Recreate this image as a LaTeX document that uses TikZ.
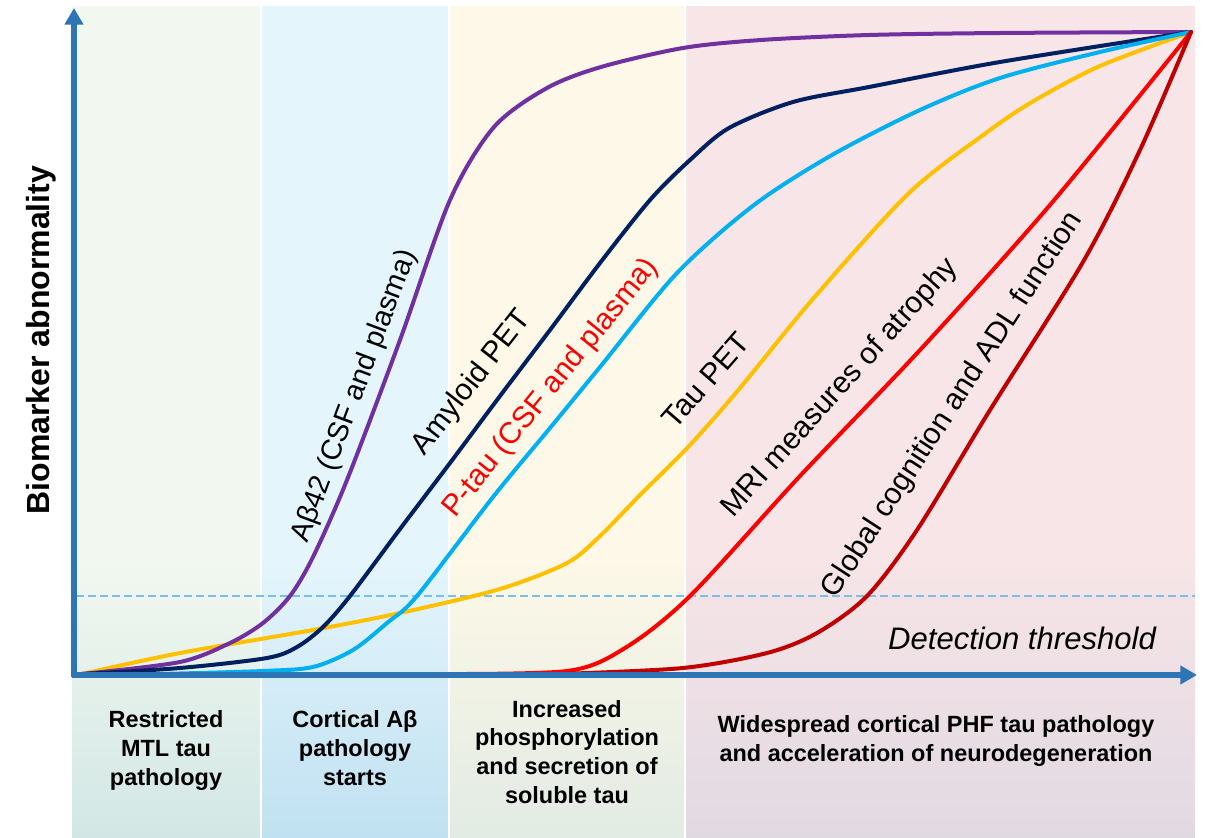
\documentclass[tikz,border=0pt]{standalone}
\usepackage{fontspec}
\setmainfont{Liberation Sans}
\usetikzlibrary{arrows.meta}
\definecolor{axisblue}{HTML}{2E75B6}
\definecolor{thr}{HTML}{74C2E8}
\definecolor{gTop}{HTML}{F2F8EF}
\definecolor{gBot}{HTML}{D2E7E5}
\definecolor{bTop}{HTML}{E5F5FC}
\definecolor{bBot}{HTML}{C0E1F1}
\definecolor{yTop}{HTML}{FDF8E7}
\definecolor{yBot}{HTML}{E2EBE4}
\definecolor{pTop}{HTML}{F7E5E7}
\definecolor{pBot}{HTML}{E1D9E2}
\definecolor{cPurple}{HTML}{7030A0}
\definecolor{cNavy}{HTML}{002060}
\definecolor{cLight}{HTML}{00B0F0}
\definecolor{cYellow}{HTML}{FFC000}
\definecolor{cRed}{HTML}{FF0000}
\definecolor{cDark}{HTML}{C00000}
\begin{document}
\begin{tikzpicture}[x=0.75pt,y=-0.75pt,
  curve/.style={line width=3pt,line cap=round,line join=round},
  axisline/.style={line width=4.2pt,draw=axisblue,-{Triangle[width=13.5pt,length=12.5pt]}},
  curvelab/.style={font=\fontsize{22.5}{26}\selectfont,inner sep=0pt},
  stagelab/.style={font=\bfseries\fontsize{17.6}{21}\selectfont,inner sep=0pt,anchor=base},
]
\useasboundingbox (0,0) rectangle (1208,838);
\fill[white] (0,0) rectangle (1208,838);
% panels
\fill[gTop] (72,6) rectangle (261,560);
\shade[top color=gTop,bottom color=gBot] (72,559.5) rectangle (261,838);
\fill[bTop] (261,6) rectangle (449,560);
\shade[top color=bTop,bottom color=bBot] (261,559.5) rectangle (449,838);
\fill[yTop] (449,6) rectangle (685,560);
\shade[top color=yTop,bottom color=yBot] (449,559.5) rectangle (685,838);
\fill[pTop] (685,6) rectangle (1195,560);
\shade[top color=pTop,bottom color=pBot] (685,559.5) rectangle (1195,838);
\foreach \xx in {261,449,685} \draw[white,line width=1.2pt] (\xx,6) -- (\xx,838);
% threshold
\coordinate (thrL) at (76,596);
\coordinate (thrR) at (1195,596);
\draw[thr,line width=1.5pt,dash pattern=on 6pt off 3pt] (thrL) -- (thrR);
% curves
\draw[curve,cYellow] plot[smooth,tension=0.5] coordinates {(82,674) (180,653) (313,630) (400,613) (500,589) (567,563) (600,536) (640,495) (690,445) (740,388) (812,300) (909,193) (986,133) (1032,102) (1100,66) (1191,32)};
\draw[curve,cPurple] plot[smooth,tension=0.5] coordinates {(82,674) (180,662) (230,643) (263,623) (290,596) (313,557) (347,480) (400,340) (450,200) (494,127) (547,88) (601,67) (683,48) (761,40) (869,35) (1000,33) (1191,32)};
\draw[curve,cNavy] plot[smooth,tension=0.5] coordinates {(82,674) (180,668) (267,658) (297,647) (323,627) (350,596) (400,529) (450,463) (500,396) (550,330) (600,263) (650,200) (690,160) (729,128) (793,102) (869,87) (1000,62) (1191,32)};
\draw[curve,cLight] plot[smooth,tension=0.5] coordinates {(160,674) (263,671) (313,667) (353,650) (387,623) (417,596) (493,497) (550,428) (600,367) (677,273) (754,205) (832,155) (920,110) (1000,78) (1100,52) (1191,32)};
\draw[curve,cRed] plot[smooth,tension=0.5] coordinates {(430,674) (567,671) (625,648) (690,596) (800,476) (920,350) (1050,205) (1191,32)};
\draw[curve,cDark] plot[smooth,tension=0.5] coordinates {(560,674) (683,668) (767,653) (817,633) (867,596) (917,530) (990,410) (1083,262) (1140,150) (1191,32)};
% axes
\coordinate (yb) at (74,677);
\coordinate (yt) at (74,8);
\coordinate (xl) at (72,675);
\coordinate (xr) at (1197,675);
\draw[axisline] (yb) -- (yt);
\draw[axisline] (xl) -- (xr);
% curve labels
\node[curvelab,rotate=69.5,font=\fontsize{21.6}{25}\selectfont] (lab1) at (355,396) {Aβ42 (CSF and plasma)};
\node[curvelab,rotate=52] (lab2) at (472,383) {Amyloid PET};
\node[curvelab,rotate=51,text=cRed] (lab3) at (551,388) {P-tau (CSF and plasma)};
\node[curvelab,rotate=49] (lab4) at (706,380) {Tau PET};
\node[curvelab,rotate=48] (lab5) at (840,388) {MRI measures of atrophy};
\node[curvelab,rotate=57] (lab6) at (953,405) {Global cognition and ADL function};
% detection threshold
\node[font=\itshape\fontsize{23.3}{27}\selectfont,inner sep=0pt,anchor=base] (det) at (1022,649) {Detection threshold};
% y axis label
\node[font=\bfseries\fontsize{24}{28}\selectfont,inner sep=0pt,rotate=90,anchor=base] (ylab) at (49,340) {Biomarker abnormality};
% stage labels
\foreach \t [count=\i] in {Restricted,MTL tau,pathology}
  \node[stagelab] (s1-\i) at (166,{727+29*(\i-1)}) {\t};
\foreach \t [count=\i] in {Cortical Aβ,pathology,starts}
  \node[stagelab] (s2-\i) at (355,{727+29*(\i-1)}) {\t};
\foreach \t [count=\i] in {Increased,phosphorylation,and secretion of,soluble tau}
  \node[stagelab] (s3-\i) at (567,{717+28.7*(\i-1)}) {\t};
\foreach \t [count=\i] in {Widespread cortical PHF tau pathology,and acceleration of neurodegeneration}
  \node[stagelab] (s4-\i) at (936,{732+29*(\i-1)}) {\t};
\end{tikzpicture}
\end{document}
